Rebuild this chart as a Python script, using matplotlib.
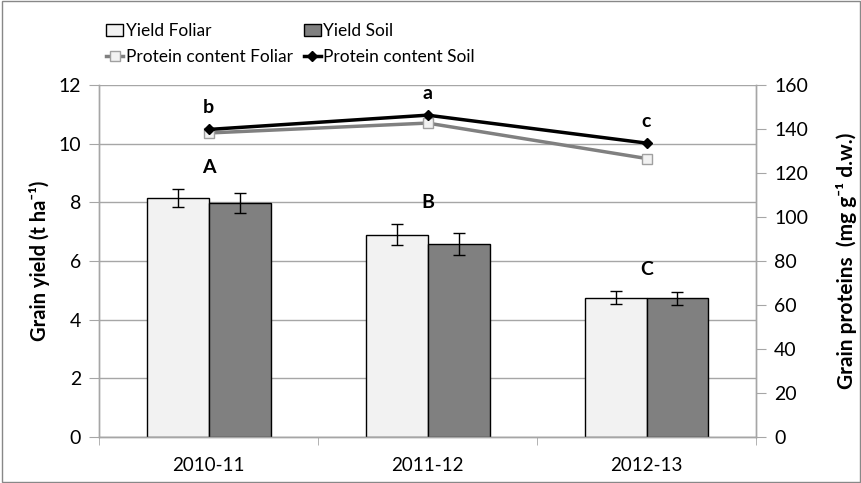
import numpy as np
import matplotlib.pyplot as plt
from matplotlib.patches import Rectangle

plt.rcParams['font.family'] = ['Lato', 'DejaVu Sans']

# data
seasons = ["2010-11", "2011-12", "2012-13"]
yield_foliar = [8.15, 6.90, 4.75]
yield_soil = [7.98, 6.57, 4.73]
err_foliar = [0.30, 0.35, 0.22]
err_soil = [0.35, 0.37, 0.22]
protein_foliar = [138.2, 142.7, 126.6]
protein_soil = [139.8, 146.3, 133.6]
yield_letters = ["A", "B", "C"]
protein_letters = ["b", "a", "c"]

grid_col = '#A6A6A6'
fol_col = '#F2F2F2'
soil_col = '#808080'

fig = plt.figure(figsize=(8.62, 4.83), dpi=100)
ax = fig.add_axes([0.115, 0.095, 0.762, 0.729])
ax2 = ax.twinx()

x = np.arange(len(seasons))
w = 0.283

b1 = ax.bar(x - w / 2, yield_foliar, w, color=fol_col, edgecolor='black', linewidth=1,
            yerr=err_foliar, error_kw=dict(ecolor='black', elinewidth=1, capsize=4, capthick=1),
            label='Yield Foliar', zorder=3)
b2 = ax.bar(x + w / 2, yield_soil, w, color=soil_col, edgecolor='black', linewidth=1,
            yerr=err_soil, error_kw=dict(ecolor='black', elinewidth=1, capsize=4, capthick=1),
            label='Yield Soil', zorder=3)

# letters above bars
for i in range(len(seasons)):
    top = max(yield_foliar[i] + err_foliar[i], yield_soil[i] + err_soil[i])
    ax.text(x[i], top + 0.45, yield_letters[i], ha='center', va='bottom',
            fontsize=14, fontweight='bold')

ax.set_xlim(-0.5, 2.5)
ax.set_ylim(0, 12)
ax.set_yticks(np.arange(0, 13, 2))
ax.set_xticks(x)
ax.set_xticklabels(seasons)
ax.set_xticks([-0.5, 0.5, 1.5, 2.5], minor=True)
ax.tick_params(axis='x', which='major', length=0, labelsize=13.5, pad=14)
ax.tick_params(axis='x', which='minor', length=6, color=grid_col)
ax.tick_params(axis='y', length=7, color=grid_col, labelsize=14, pad=6)
ax.yaxis.grid(True, color=grid_col, linewidth=1)
ax.set_axisbelow(True)
ax.set_ylabel('Grain yield (t ha\u207b\u00b9)', fontsize=14.5, fontweight='bold', labelpad=6)

l1, = ax2.plot(x, protein_foliar, color=soil_col, linewidth=2.5, marker='s', markersize=7,
               markerfacecolor=fol_col, markeredgecolor='#A0A0A0', label='Protein content Foliar')
l2, = ax2.plot(x, protein_soil, color='black', linewidth=2.5, marker='D', markersize=5.5,
               label='Protein content Soil')
for i in range(len(seasons)):
    ax2.text(x[i], protein_soil[i] + 6, protein_letters[i], ha='center', va='bottom',
             fontsize=14, fontweight='bold')

ax2.set_ylim(0, 160)
ax2.set_yticks(np.arange(0, 161, 20))
ax2.tick_params(axis='y', length=7, color=grid_col, labelsize=14, pad=6)
ax2.set_ylabel('Grain proteins  (mg g\u207b\u00b9 d.w.)', fontsize=15, fontweight='bold',
               labelpad=20)

for a in (ax, ax2):
    a.spines['top'].set_visible(False)
    for s in ('left', 'right', 'bottom'):
        a.spines[s].set_color(grid_col)
        a.spines[s].set_linewidth(1)

handles = [b1, l1, b2, l2]
fig.legend(handles, [h.get_label() for h in handles], ncol=2, loc='upper left',
           bbox_to_anchor=(0.105, 0.985), frameon=False, fontsize=12.5,
           handlelength=1.0, handletextpad=0.15, columnspacing=0.6, labelspacing=0.6)

fig.patches.append(Rectangle((0.002, 0.002), 0.996, 0.996, transform=fig.transFigure,
                             fill=False, edgecolor='#888888', linewidth=1))

fig.savefig('out.png', dpi=100)
